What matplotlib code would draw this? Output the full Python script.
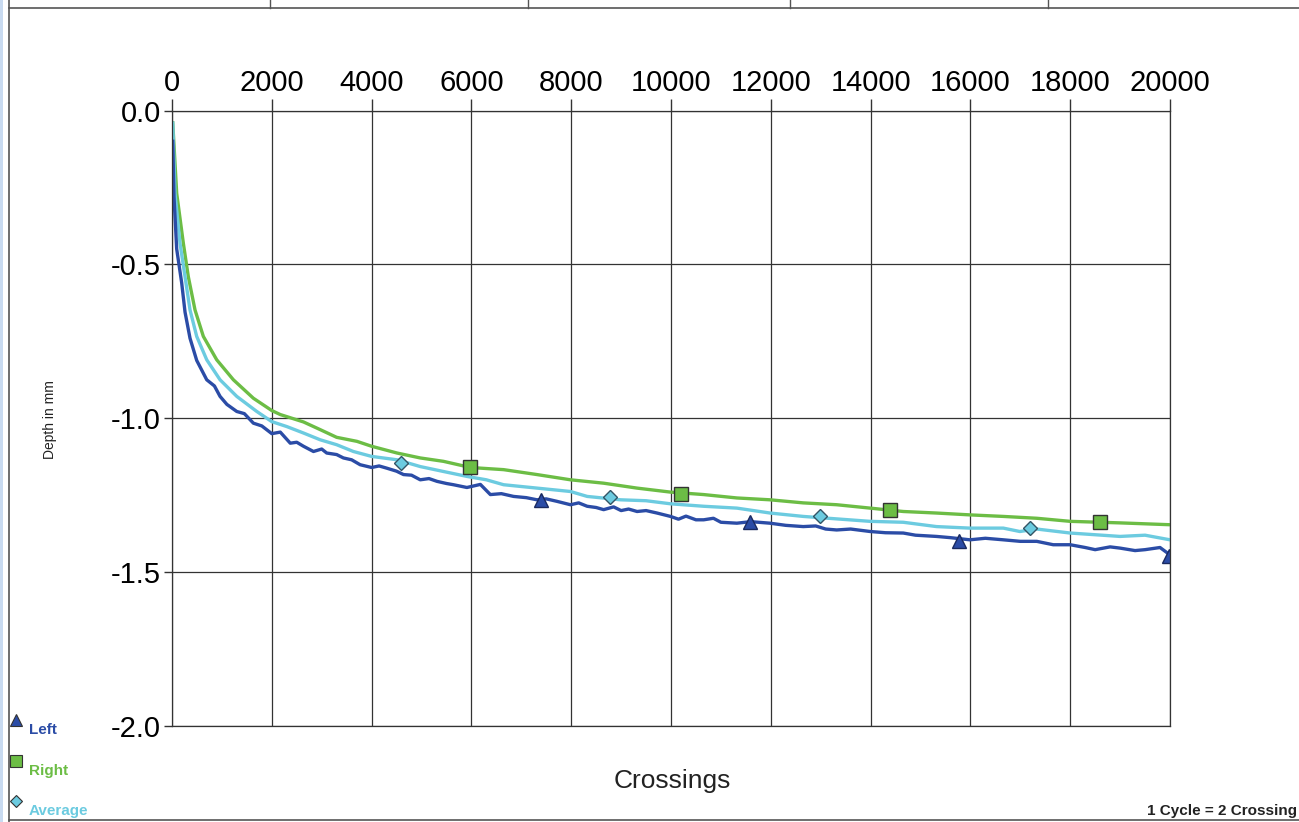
import matplotlib.pyplot as plt
from matplotlib.lines import Line2D

plt.rcParams['font.family'] = ['Liberation Sans', 'DejaVu Sans']

# Left (dark blue) series
left_x = [15, 40, 94, 194, 261, 361, 495, 696, 850, 963,
          1100, 1298, 1450, 1631, 1800, 2000, 2170, 2370, 2500, 2635,
          2835, 3000, 3100, 3300, 3435, 3600, 3770, 4000, 4150, 4300,
          4500, 4640, 4800, 4975, 5150, 5310, 5500, 5640, 5910, 6180,
          6380, 6600, 6845, 7100, 7315, 7500, 7715, 7985, 8150, 8320,
          8500, 8650, 8850, 9000, 9150, 9320, 9500, 9720, 9990, 10150,
          10300, 10500, 10655, 10850, 11000, 11320, 11600, 11985, 12300, 12650,
          12900, 13100, 13320, 13600, 13990, 14300, 14655, 14900, 15320, 15600,
          15990, 16300, 16660, 17000, 17330, 17660, 18000, 18300, 18500, 18800,
          19000, 19300, 19500, 19800, 19950, 20000]
left_y = [-0.10, -0.28, -0.45, -0.560, -0.655, -0.740, -0.812, -0.875, -0.895, -0.929,
          -0.955, -0.978, -0.985, -1.016, -1.025, -1.050, -1.045, -1.081, -1.078, -1.091,
          -1.108, -1.100, -1.113, -1.118, -1.129, -1.135, -1.151, -1.160, -1.155, -1.162,
          -1.172, -1.183, -1.185, -1.200, -1.196, -1.205, -1.212, -1.216, -1.225, -1.215,
          -1.248, -1.245, -1.254, -1.258, -1.265, -1.262, -1.270, -1.281, -1.275, -1.286,
          -1.290, -1.297, -1.288, -1.300, -1.295, -1.303, -1.300, -1.308, -1.319, -1.328,
          -1.318, -1.330, -1.330, -1.325, -1.338, -1.341, -1.336, -1.341, -1.348, -1.352,
          -1.350, -1.360, -1.363, -1.360, -1.368, -1.372, -1.373, -1.380, -1.384, -1.388,
          -1.395, -1.390, -1.395, -1.400, -1.400, -1.411, -1.411, -1.420, -1.427, -1.418,
          -1.422, -1.430, -1.427, -1.420, -1.438, -1.445]

# Right (green) series
right_x = [15, 94, 227, 327, 461, 628, 896, 1230, 1631, 2000,
           2170, 2635, 2970, 3300, 3705, 4000, 4510, 4975, 5440, 5980,
           6645, 7315, 7985, 8650, 9320, 9990, 10655, 11320, 11985, 12650,
           13320, 13990, 14655, 15320, 15990, 16660, 17330, 18000, 19000, 20000]
right_y = [-0.04, -0.269, -0.431, -0.540, -0.648, -0.734, -0.810, -0.875, -0.935, -0.975,
           -0.988, -1.012, -1.037, -1.062, -1.075, -1.091, -1.113, -1.129, -1.140, -1.160,
           -1.167, -1.183, -1.200, -1.211, -1.227, -1.240, -1.248, -1.259, -1.265, -1.275,
           -1.281, -1.292, -1.303, -1.308, -1.314, -1.319, -1.325, -1.335, -1.340, -1.346]

# Average (light blue) series
avg_x = [15, 60, 160, 261, 361, 495, 696, 963, 1298, 1699,
         2000, 2300, 2635, 2970, 3300, 3635, 4000, 4510, 4975, 5440,
         5910, 6300, 6645, 7315, 7985, 8320, 8990, 9500, 9990, 10655,
         11320, 11985, 12650, 13320, 13990, 14655, 15320, 15990, 16660, 16990,
         17330, 18000, 19000, 19500, 20000]
avg_y = [-0.041, -0.269, -0.431, -0.540, -0.648, -0.734, -0.810, -0.875, -0.929, -0.978,
         -1.011, -1.027, -1.048, -1.070, -1.086, -1.108, -1.124, -1.135, -1.157, -1.173,
         -1.189, -1.200, -1.216, -1.227, -1.238, -1.254, -1.265, -1.268, -1.278, -1.286,
         -1.292, -1.308, -1.319, -1.327, -1.335, -1.338, -1.352, -1.357, -1.357, -1.368,
         -1.360, -1.373, -1.384, -1.380, -1.395]

# marker positions
left_mx = [7400, 11590, 15780, 19980]
left_my = [-1.265, -1.336, -1.398, -1.446]
right_mx = [5975, 10210, 14380, 18590]
right_my = [-1.157, -1.245, -1.297, -1.336]
avg_mx = [4590, 8780, 12990, 17190]
avg_my = [-1.144, -1.255, -1.317, -1.357]

x_ticks = list(range(0, 20001, 2000))
y_ticks = [0.0, -0.5, -1.0, -1.5, -2.0]

c_left = '#2b4ca6'
c_right = '#6cbd45'
c_avg = '#6ccbe0'

W, H = 1299, 822
fig = plt.figure(figsize=(W / 100, H / 100), dpi=100)

# background frame drawn in pixel coords
bg = fig.add_axes([0, 0, 1, 1])
bg.set_xlim(0, W)
bg.set_ylim(H, 0)
bg.axis('off')
bg.fill_between([0, 3], 0, H, color='#c8daf0', lw=0)
bg.plot([9, 9], [0, H], color='#555555', lw=1.2)
bg.plot([9, W], [8, 8], color='#555555', lw=1.2)
bg.plot([9, W], [820, 820], color='#555555', lw=1.2)
for xp in [270, 528, 790, 1048]:
    bg.plot([xp, xp], [0, 8], color='#555555', lw=1)

ax = fig.add_axes([172 / W, 1 - 726 / H, (1170 - 172) / W, (726 - 110.5) / H])
ax.plot(right_x, right_y, color=c_right, lw=2.4)
ax.plot(avg_x, avg_y, color=c_avg, lw=2.4)
ax.plot(left_x, left_y, color=c_left, lw=2.4)
ax.plot(right_mx, right_my, 's', ms=10, color=c_right, mec='#333333', mew=1)
ax.plot(avg_mx, avg_my, 'D', ms=7.5, color=c_avg, mec='#335566', mew=1)
ax.plot(left_mx, left_my, '^', ms=10, color=c_left, mec='#1a2a60', mew=1)

ax.set_xlim(0, 20000)
ax.set_ylim(-2.0, 0.0)
ax.xaxis.tick_top()
ax.set_xticks(x_ticks)
ax.set_xticklabels([str(v) for v in x_ticks])
ax.set_yticks(y_ticks)
ax.set_yticklabels([f"{v:.1f}" for v in y_ticks])
ax.tick_params(axis='x', labelsize=21, length=9, width=1, color='#333333', pad=1)
ax.tick_params(axis='y', labelsize=21, length=6, width=1, color='#333333', pad=2)
ax.grid(True, color='#333333', lw=0.9)
for s in ax.spines.values():
    s.set_color('#333333')
    s.set_linewidth(0.9)

fig.text(50 / W, 1 - 420 / H, 'Depth in mm', rotation=90, fontsize=10,
         ha='center', va='center', color='#222222')
fig.text(672 / W, 1 - 781 / H, 'Crossings', fontsize=19, ha='center', va='center',
         color='#222222')
fig.text(1297 / W, 1 - 811 / H, '1 Cycle = 2 Crossing', fontsize=11, ha='right',
         va='center', fontweight='bold', color='#222222')

# legend in the bottom-left corner
legend_items = [('Left', '^', c_left, 720, 8), ('Right', 's', c_right, 761, 8),
                ('Average', 'D', c_avg, 801, 6)]
for label, mk, col, yp, size in legend_items:
    bg.add_line(Line2D([16], [yp], marker=mk, ms=size, color=col, mec='#333333', mew=0.8))
    bg.text(29, yp + 10, label, fontsize=11, fontweight='bold', color=col,
            ha='left', va='center')

fig.savefig('out.png', dpi=100)
